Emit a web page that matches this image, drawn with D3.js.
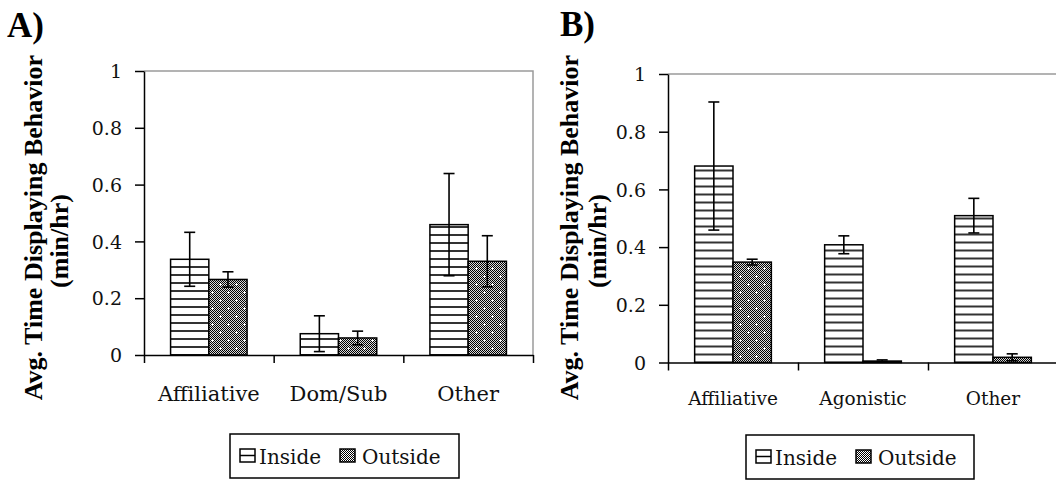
<!DOCTYPE html>
<html>
<head>
<meta charset="utf-8">
<script src="https://cdn.jsdelivr.net/npm/d3@7"></script>
<style>
  body { margin: 0; background: #fff; }
  svg { display: block; }
  .axis text { font-family: "DejaVu Serif", serif; fill: #111; }
  .cat-label, .legend-label { font-family: "DejaVu Serif", serif; fill: #111; }
  .axis-title, .panel-label { font-family: "Liberation Serif", "Times New Roman", serif; font-weight: bold; fill: #000; }
</style>
</head>
<body>
<svg id="chart" width="1056" height="480"></svg>
<script>
// ---- data ----
const seriesNames = ['Inside', 'Outside'];
const yTicks = [0, 0.2, 0.4, 0.6, 0.8, 1];

// panel A
const categoriesA = ['Affiliative', 'Dom/Sub', 'Other'];
const insideA = [0.337, 0.075, 0.459];
const insideErrA = [0.095, 0.063, 0.180];
const outsideA = [0.266, 0.060, 0.330];
const outsideErrA = [0.027, 0.024, 0.090];

// panel B
const categoriesB = ['Affiliative', 'Agonistic', 'Other'];
const insideB = [0.681, 0.408, 0.509];
const insideErrB = [0.222, 0.031, 0.060];
const outsideB = [0.348, 0.005, 0.018];
const outsideErrB = [0.010, 0.004, 0.012];

const svg = d3.select('#chart');
const defs = svg.append('defs');

// fine dither used by the "Outside" fill
const dither = defs.append('pattern')
    .attr('id', 'dither')
    .attr('patternUnits', 'userSpaceOnUse')
    .attr('width', 2).attr('height', 2);
dither.append('rect').attr('width', 2).attr('height', 2).attr('fill', '#fff');
dither.append('rect').attr('width', 1).attr('height', 1).attr('fill', '#000');
dither.append('rect').attr('x', 1).attr('y', 1).attr('width', 1).attr('height', 1).attr('fill', '#000');

// dither with white crosses on a diamond lattice
const dots = defs.append('pattern')
    .attr('id', 'dots')
    .attr('patternUnits', 'userSpaceOnUse')
    .attr('width', 16).attr('height', 16);
dots.append('rect').attr('width', 16).attr('height', 16).attr('fill', 'url(#dither)');
dots.append('rect').attr('width', 16).attr('height', 16).attr('fill', '#000').attr('opacity', 0.15);
[[4, 4], [12, 12]].forEach(([cx, cy]) => {
    dots.append('rect').attr('x', cx - 1).attr('y', cy).attr('width', 3).attr('height', 1).attr('fill', '#fff');
    dots.append('rect').attr('x', cx).attr('y', cy - 1).attr('width', 1).attr('height', 3).attr('fill', '#fff');
});

class GroupedBarChart {

    constructor(_config, _data) {
        this.config = _config;
        this.data = _data;
        this.initVis();
    }

    initVis() {
        let vis = this;
        const c = vis.config;

        vis.yScale = d3.scaleLinear().domain([0, 1]).range([c.bottom, c.top]);
        vis.xScale = d3.scaleBand().domain(vis.data.categories).range([c.left, c.right]);
        const bw = vis.xScale.bandwidth();
        vis.xInner = d3.scaleBand().domain(seriesNames)
            .range([bw * (1 - c.groupFrac) / 2, bw * (1 + c.groupFrac) / 2]);

        // horizontal hatch for "Inside", aligned on the baseline
        const hatch = defs.append('pattern')
            .attr('id', 'hatch-' + c.id)
            .attr('patternUnits', 'userSpaceOnUse')
            .attr('width', 8).attr('height', 8)
            .attr('patternTransform', `translate(0,${c.bottom})`);
        hatch.append('rect').attr('width', 8).attr('height', 8).attr('fill', '#fff');
        hatch.append('rect').attr('y', -0.8).attr('width', 8).attr('height', 1.6).attr('fill', '#000');
        hatch.append('rect').attr('y', 7.2).attr('width', 8).attr('height', 1.6).attr('fill', '#000');
        vis.fills = { Inside: `url(#hatch-${c.id})`, Outside: 'url(#dots)' };

        vis.g = svg.append('g');
    }

    renderVis() {
        let vis = this;
        const c = vis.config;
        const d = vis.data;

        // plot area frame (grey top and right)
        vis.g.append('path')
            .attr('d', `M${c.left},${c.top}H${c.right}V${c.bottom}`)
            .attr('fill', 'none')
            .attr('stroke', '#9a9a9a')
            .attr('stroke-width', 1.5);

        const rows = [];
        d.categories.forEach((cat, i) => {
            rows.push({ cat, series: 'Inside', value: d.inside[i], err: d.insideErr[i] });
            rows.push({ cat, series: 'Outside', value: d.outside[i], err: d.outsideErr[i] });
        });

        vis.g.selectAll('.bar')
            .data(rows)
            .join('rect')
            .attr('class', 'bar')
            .attr('x', r => vis.xScale(r.cat) + vis.xInner(r.series))
            .attr('y', r => vis.yScale(r.value))
            .attr('width', vis.xInner.bandwidth())
            .attr('height', r => vis.yScale(0) - vis.yScale(r.value))
            .attr('fill', r => vis.fills[r.series])
            .attr('stroke', '#000')
            .attr('stroke-width', 1.5);

        // error bars
        const cx = r => vis.xScale(r.cat) + vis.xInner(r.series) + vis.xInner.bandwidth() / 2;
        const eb = vis.g.selectAll('.err')
            .data(rows)
            .join('g')
            .attr('class', 'err')
            .attr('stroke', '#000')
            .attr('stroke-width', 1.6);
        eb.append('line')
            .attr('x1', cx).attr('x2', cx)
            .attr('y1', r => vis.yScale(r.value + r.err))
            .attr('y2', r => vis.yScale(Math.max(0, r.value - r.err)));
        [1, -1].forEach(s => {
            eb.append('line')
                .attr('x1', r => cx(r) - c.cap).attr('x2', r => cx(r) + c.cap)
                .attr('y1', r => vis.yScale(Math.max(0, r.value + s * r.err)))
                .attr('y2', r => vis.yScale(Math.max(0, r.value + s * r.err)));
        });

        // y axis
        const yAxis = d3.axisLeft(vis.yScale)
            .tickValues(yTicks)
            .tickSize(9)
            .tickSizeOuter(0)
            .tickPadding(13)
            .tickFormat(v => String(v));
        vis.g.append('g')
            .attr('class', 'axis')
            .attr('transform', `translate(${c.left},0)`)
            .call(yAxis)
            .call(g => g.selectAll('line, path').attr('stroke', '#000').attr('stroke-width', 1.5))
            .call(g => g.selectAll('text').attr('font-size', c.tickSize).attr('dy', '0.35em'));

        // x axis: ticks between categories
        const xEdge = d3.scaleLinear().domain([0, d.categories.length]).range([c.left, c.right]);
        vis.g.append('g')
            .attr('class', 'axis')
            .attr('transform', `translate(0,${c.bottom})`)
            .call(d3.axisBottom(xEdge).tickValues(d3.range(d.categories.length + 1))
                .tickSize(8).tickSizeOuter(0).tickFormat(''))
            .call(g => g.selectAll('line, path').attr('stroke', '#000').attr('stroke-width', 1.5));

        vis.g.selectAll('.cat-label')
            .data(d.categories)
            .join('text')
            .attr('class', 'cat-label')
            .attr('x', cat => vis.xScale(cat) + vis.xScale.bandwidth() / 2)
            .attr('y', c.catY)
            .attr('text-anchor', 'middle')
            .attr('font-size', c.catSize)
            .text(cat => cat);

        // axis title, two lines
        vis.g.append('text')
            .attr('class', 'axis-title')
            .attr('transform', `translate(${c.title1X},${c.title1Top}) rotate(-90)`)
            .attr('text-anchor', 'end')
            .attr('font-size', c.titleSize)
            .text('Avg. Time Displaying Behavior');
        vis.g.append('text')
            .attr('class', 'axis-title')
            .attr('transform', `translate(${c.title2X},${c.title2Mid}) rotate(-90)`)
            .attr('text-anchor', 'middle')
            .attr('font-size', c.titleSize)
            .text('(min/hr)');

        // panel letter
        vis.g.append('text')
            .attr('class', 'panel-label')
            .attr('x', c.letterX).attr('y', c.letterY)
            .attr('font-size', 35)
            .text(c.letter);

        // legend
        const lg = vis.g.append('g').attr('transform', `translate(${c.legendX},${c.legendY})`);
        lg.append('rect')
            .attr('width', c.legendW).attr('height', 44)
            .attr('fill', '#fff').attr('stroke', '#000').attr('stroke-width', 1.5);
        const items = [
            { name: 'Inside', icon: 10, text: 29 },
            { name: 'Outside', icon: 110, text: 132 }
        ];
        items.forEach(it => {
            lg.append('rect')
                .attr('x', it.icon).attr('y', 15)
                .attr('width', 15).attr('height', 13)
                .attr('fill', it.name === 'Inside' ? '#fff' : 'url(#dither)')
                .attr('stroke', '#000').attr('stroke-width', 1.5);
            if (it.name === 'Inside') {
                lg.append('line')
                    .attr('x1', it.icon).attr('x2', it.icon + 15)
                    .attr('y1', 21.5).attr('y2', 21.5)
                    .attr('stroke', '#000').attr('stroke-width', 1.5);
            }
            lg.append('text')
                .attr('class', 'legend-label')
                .attr('x', it.text).attr('y', 30)
                .attr('font-size', 20)
                .text(it.name);
        });
    }
}

const chartA = new GroupedBarChart({
    id: 'a', left: 144, right: 533, top: 71, bottom: 355, groupFrac: 0.59, cap: 5.5,
    tickSize: 19, catSize: 21, catY: 401, titleSize: 26,
    title1X: 42, title1Top: 55, title2X: 68, title2Mid: 241,
    letter: 'A)', letterX: 7, letterY: 37,
    legendX: 230, legendY: 434, legendW: 229
}, { categories: categoriesA, inside: insideA, insideErr: insideErrA, outside: outsideA, outsideErr: outsideErrA });
chartA.renderVis();

const chartB = new GroupedBarChart({
    id: 'b', left: 668, right: 1058, top: 74, bottom: 362.5, groupFrac: 0.59, cap: 5.5,
    tickSize: 19, catSize: 18.5, catY: 405, titleSize: 26,
    title1X: 578, title1Top: 55, title2X: 606, title2Mid: 241,
    letter: 'B)', letterX: 560, letterY: 36,
    legendX: 746, legendY: 435, legendW: 228
}, { categories: categoriesB, inside: insideB, insideErr: insideErrB, outside: outsideB, outsideErr: outsideErrB });
chartB.renderVis();
</script>
</body>
</html>
